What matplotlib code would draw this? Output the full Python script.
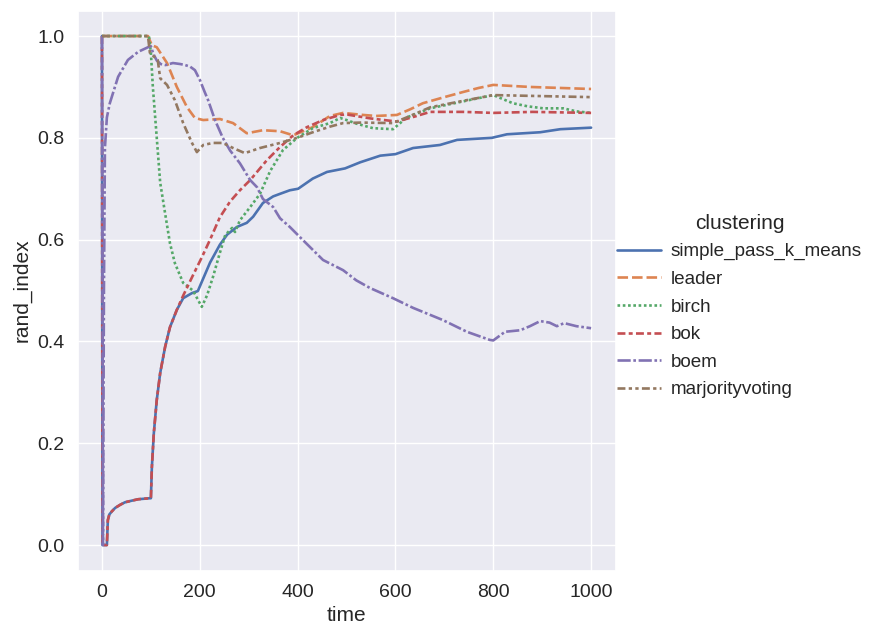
import matplotlib
matplotlib.use("Agg")
import matplotlib.pyplot as plt
import pandas as pd
import seaborn as sns

# rand index per clustering method
kmeans_t = [0, 1, 10, 12, 15, 20, 27, 37, 47, 60, 74, 98, 100, 102, 106, 112, 119, 129, 139, 153,
            166, 184, 196, 204, 221, 241, 256, 276, 296, 309, 329, 350, 364, 384, 401, 431, 460, 497,
            528, 569, 600, 636, 691, 726, 797, 828, 896, 937, 1000]
kmeans_v = [1.0, 0.0, 0.0, 0.049, 0.06, 0.066, 0.073, 0.079, 0.084, 0.087, 0.09, 0.092, 0.092, 0.153,
            0.22, 0.285, 0.338, 0.389, 0.428, 0.462, 0.485, 0.495, 0.499, 0.517, 0.555, 0.59, 0.61,
            0.625, 0.633, 0.645, 0.672, 0.685, 0.69, 0.697, 0.70, 0.72, 0.733, 0.74, 0.752, 0.765,
            0.768, 0.78, 0.786, 0.796, 0.80, 0.807, 0.811, 0.817, 0.82]

leader_t = [0, 94, 102, 112, 133, 153, 174, 190, 207, 241, 268, 296, 329, 364, 391, 431, 466, 493,
            534, 560, 603, 630, 656, 700, 738, 770, 800, 875, 1000]
leader_v = [1.0, 1.0, 0.982, 0.978, 0.947, 0.90, 0.86, 0.839, 0.835, 0.837, 0.829, 0.809, 0.815,
            0.813, 0.805, 0.821, 0.843, 0.849, 0.845, 0.843, 0.845, 0.856, 0.868, 0.88, 0.89, 0.898,
            0.904, 0.90, 0.896]

birch_t = [0, 96, 100, 104, 112, 119, 129, 139, 149, 166, 186, 204, 215, 227, 241, 252, 266, 272,
           282, 303, 323, 344, 370, 399, 431, 466, 487, 500, 520, 554, 595, 623, 671, 740, 800, 810,
           840, 870, 902, 943, 970, 1000]
birch_v = [1.0, 1.0, 0.967, 0.90, 0.80, 0.712, 0.652, 0.593, 0.554, 0.515, 0.50, 0.468, 0.491,
           0.527, 0.574, 0.609, 0.623, 0.615, 0.638, 0.664, 0.69, 0.735, 0.776, 0.80, 0.819, 0.829,
           0.839, 0.835, 0.828, 0.819, 0.817, 0.84, 0.858, 0.872, 0.884, 0.88, 0.868, 0.862, 0.858,
           0.858, 0.852, 0.849]

bok_t = [0, 1, 10, 12, 15, 20, 27, 37, 47, 60, 74, 98, 100, 102, 106, 112, 119, 129, 139, 153,
         166, 186, 204, 221, 241, 262, 282, 303, 337, 364, 391, 419, 452, 487, 500, 550, 603, 640,
         671, 740, 800, 880, 1000]
bok_v = [1.0, 0.0, 0.0, 0.049, 0.06, 0.066, 0.073, 0.079, 0.084, 0.087, 0.09, 0.092, 0.092, 0.153,
         0.22, 0.285, 0.338, 0.389, 0.428, 0.462, 0.49, 0.53, 0.565, 0.60, 0.644, 0.675, 0.697,
         0.717, 0.756, 0.782, 0.805, 0.821, 0.835, 0.845, 0.846, 0.838, 0.832, 0.842, 0.851, 0.851,
         0.849, 0.851, 0.849]

boem_t = [0, 2, 4, 6, 10, 16, 33, 53, 74, 94, 100, 105, 112, 120, 130, 145, 160, 170, 180, 190,
          200, 210, 217, 231, 247, 262, 282, 303, 317, 329, 350, 364, 384, 411, 452, 493, 520, 548,
          595, 636, 697, 746, 793, 800, 824, 855, 875, 896, 915, 930, 945, 970, 1000]
boem_v = [1.0, 0.0, 0.5, 0.78, 0.84, 0.868, 0.92, 0.953, 0.969, 0.978, 0.98, 0.965, 0.952, 0.945,
          0.943, 0.947, 0.945, 0.943, 0.94, 0.933, 0.914, 0.89, 0.874, 0.835, 0.80, 0.775, 0.75,
          0.717, 0.703, 0.68, 0.664, 0.642, 0.625, 0.599, 0.56, 0.54, 0.52, 0.505, 0.485, 0.466,
          0.442, 0.419, 0.403, 0.402, 0.419, 0.422, 0.43, 0.44, 0.437, 0.43, 0.436, 0.43, 0.426]

voting_t = [0, 94, 98, 114, 119, 133, 149, 166, 184, 194, 207, 227, 247, 268, 292, 323, 364, 399,
            431, 466, 493, 530, 595, 630, 671, 740, 800, 900, 1000]
voting_v = [1.0, 1.0, 0.967, 0.953, 0.917, 0.904, 0.874, 0.829, 0.79, 0.772, 0.786, 0.79, 0.79,
            0.78, 0.77, 0.78, 0.79, 0.80, 0.811, 0.822, 0.829, 0.83, 0.829, 0.843, 0.86, 0.873,
            0.884, 0.882, 0.88]

series = [
    ("simple_pass_k_means", kmeans_t, kmeans_v),
    ("leader", leader_t, leader_v),
    ("birch", birch_t, birch_v),
    ("bok", bok_t, bok_v),
    ("boem", boem_t, boem_v),
    ("marjorityvoting", voting_t, voting_v),
]

frames = [pd.DataFrame({"time": t, "rand_index": v, "clustering": name}) for name, t, v in series]
df = pd.concat(frames, ignore_index=True)

sns.set_theme(style="darkgrid")
plt.rcParams["font.family"] = ["Liberation Sans", "DejaVu Sans"]

fig = plt.figure(figsize=(8.74, 6.27), dpi=100)
ax = fig.add_axes([0.0887, 0.0901, 0.6156, 0.893])

sns.lineplot(data=df, x="time", y="rand_index", hue="clustering", style="clustering",
             errorbar=None, linewidth=1.9, ax=ax)

ax.tick_params(labelsize=14)
ax.set_xlabel("time", fontsize=15)
ax.set_ylabel("rand_index", fontsize=15)
ax.set_xticks([0, 200, 400, 600, 800, 1000])
ax.set_yticks([0.0, 0.2, 0.4, 0.6, 0.8, 1.0])

handles, labels = ax.get_legend_handles_labels()
ax.legend(handles, labels, title="clustering", loc="center left",
          bbox_to_anchor=(0.687, 0.512), bbox_transform=fig.transFigure,
          frameon=False, fontsize=13.6, title_fontsize=15, labelspacing=0.55,
          handlelength=2.3, handletextpad=0.5)

fig.savefig("out.png", dpi=100)
